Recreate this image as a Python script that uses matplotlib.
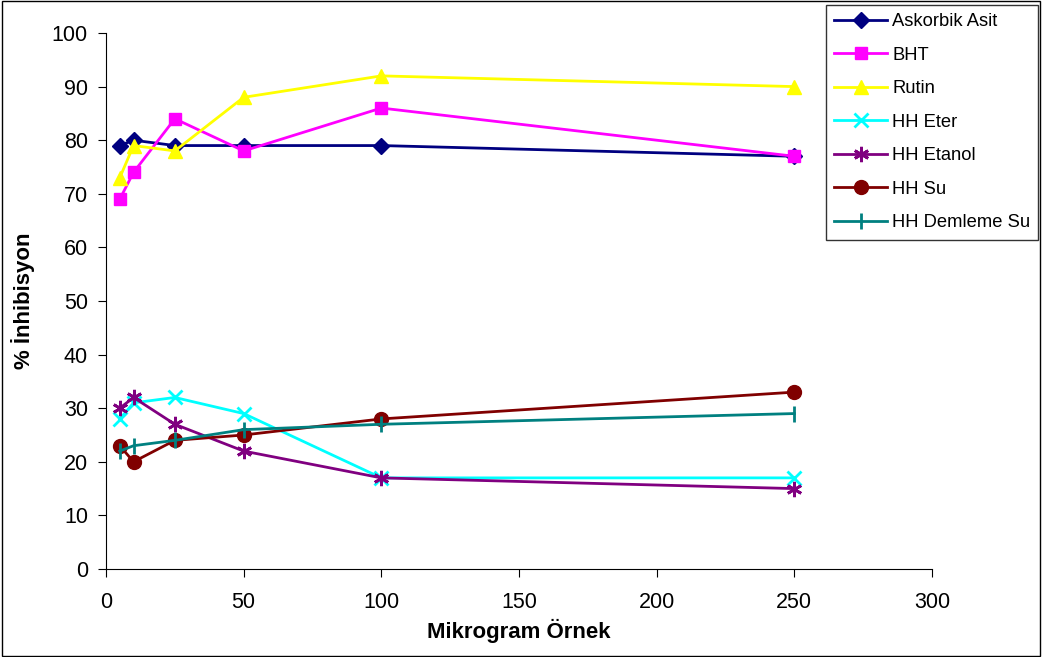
import matplotlib
matplotlib.use("Agg")
import matplotlib.pyplot as plt
from matplotlib.patches import Rectangle

plt.rcParams['font.family'] = ['Liberation Sans', 'DejaVu Sans']

x = [5, 10, 25, 50, 100, 250]
askorbik = [79, 80, 79, 79, 79, 77]
bht = [69, 74, 84, 78, 86, 77]
rutin = [73, 79, 78, 88, 92, 90]
hh_eter = [28, 31, 32, 29, 17, 17]
hh_etanol = [30, 32, 27, 22, 17, 15]
hh_su = [23, 20, 24, 25, 28, 33]
hh_demleme = [22, 23, 24, 26, 27, 29]

fig = plt.figure(figsize=(10.42, 6.57), dpi=100)
ax = fig.add_axes([106 / 1042, 1 - 569 / 657, (932 - 106) / 1042, (569 - 33) / 657])

ax.plot(x, askorbik, color="#000080", marker="D", markersize=8, lw=2, label="Askorbik Asit")
ax.plot(x, bht, color="#FF00FF", marker="s", markersize=9, lw=2, label="BHT")
ax.plot(x, rutin, color="#FFFF00", marker="^", markersize=10, lw=2, label="Rutin")
ax.plot(x, hh_eter, color="#00FFFF", marker="x", markersize=10, mew=2, lw=2, label="HH Eter")
ax.plot(x, hh_etanol, color="#800080", marker=(6, 2, 0), markersize=11, mew=2, lw=2, label="HH Etanol")
ax.plot(x, hh_su, color="#800000", marker="o", markersize=10, lw=2, label="HH Su")
ax.plot(x, hh_demleme, color="#008080", marker="|", markersize=12, mew=2, lw=2, label="HH Demleme Su")

ax.set_xlim(0, 300)
ax.set_ylim(0, 100)
ax.set_xticks(range(0, 301, 50))
ax.set_yticks(range(0, 101, 10))
ax.spines["top"].set_visible(False)
ax.spines["right"].set_visible(False)
ax.tick_params(labelsize=15.5, direction="out", length=6)
ax.tick_params(axis="x", pad=10.5)
ax.tick_params(axis="y", pad=7)
ax.set_xlabel("Mikrogram Örnek", fontsize=16, fontweight="bold", labelpad=4)
ax.set_ylabel("% İnhibisyon", fontsize=16, fontweight="bold", labelpad=12)

leg = fig.legend(loc="upper left", bbox_to_anchor=(826 / 1042, 1 - 5 / 657),
                 fontsize=13.2, frameon=True, fancybox=False, edgecolor="black",
                 labelspacing=0.9, handlelength=2.9, handletextpad=0.25,
                 borderpad=0.45, borderaxespad=0)
leg.get_frame().set_linewidth(1)

fig.patches.append(Rectangle((0.002, 0.002), 0.996, 0.996, transform=fig.transFigure,
                             fill=False, edgecolor="black", lw=1))

fig.savefig("out.png", dpi=100)
